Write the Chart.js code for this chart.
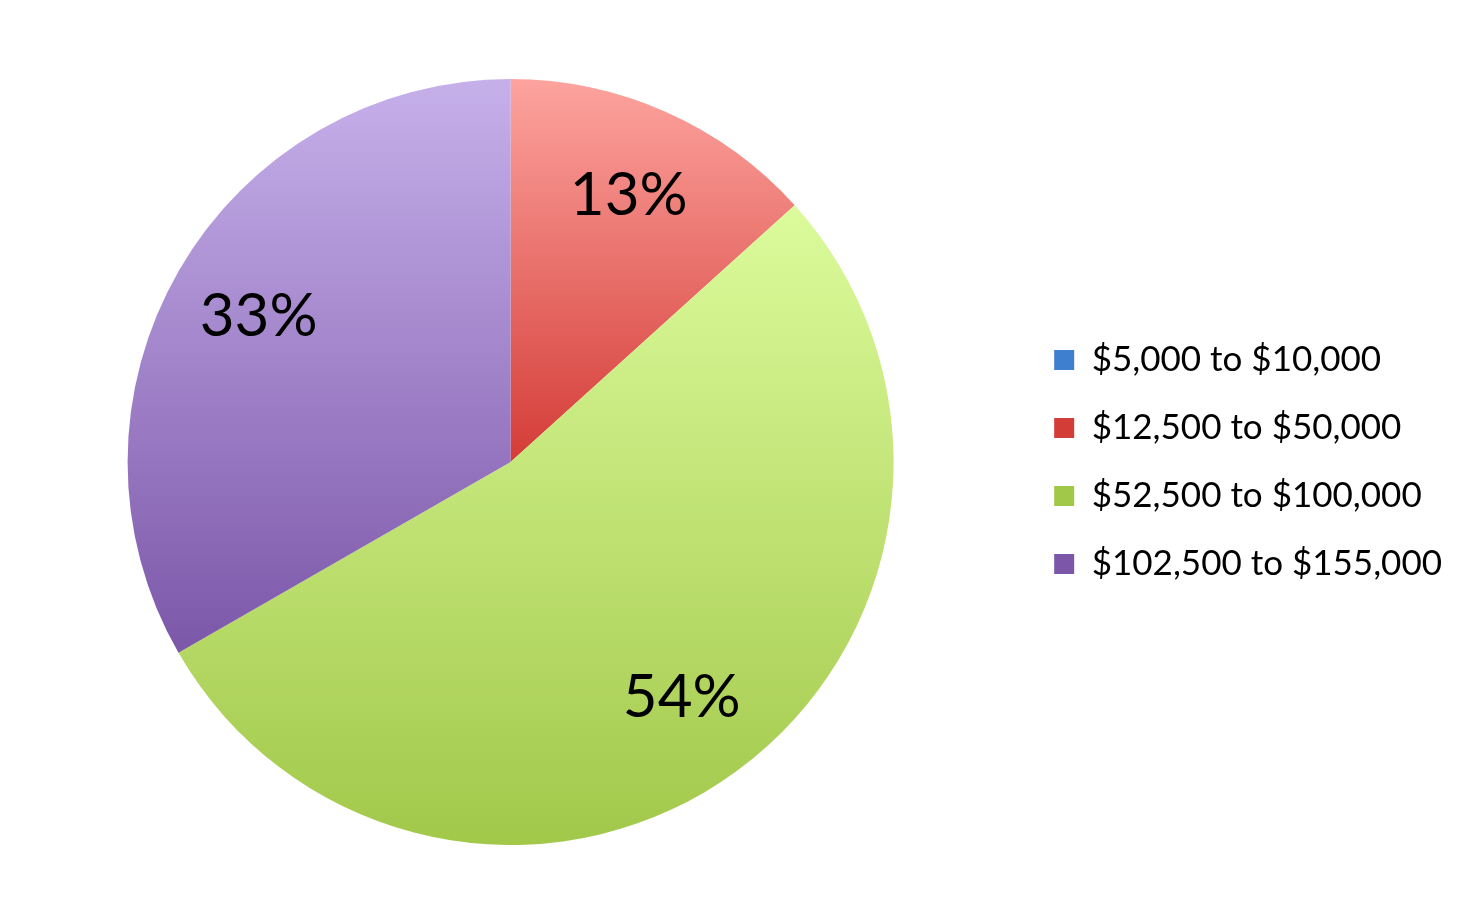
<!DOCTYPE html>
<html>
<head>
<meta charset="utf-8">
<script src="https://cdn.jsdelivr.net/npm/chart.js@4"></script>
<style>
  html, body { margin: 0; padding: 0; background: #fff; }
  #wrap { width: 1472px; height: 919px; }
</style>
</head>
<body>
<div id="wrap"><canvas id="pieChart"></canvas></div>
<script>
const categories = ['$5,000 to $10,000', '$12,500 to $50,000', '$52,500 to $100,000', '$102,500 to $155,000'];
const shares = [0, 13.3, 53.4, 33.3];
const shareLabels = ['0%', '13%', '54%', '33%'];
// gradient top / bottom colours per slice
const topColors = ['#7fb2ec', '#fda39e', '#dcfb9c', '#c6b0ea'];
const bottomColors = ['#3f7fcf', '#d43c37', '#a2c84a', '#7c57a9'];

function sliceGradient(ctx) {
  const chart = ctx.chart;
  const area = chart.chartArea;
  const i = ctx.dataIndex;
  if (!area) return topColors[i];
  const x = (area.left + area.right) / 2, y = (area.top + area.bottom) / 2;
  const r = Math.min(area.right - area.left, area.bottom - area.top) / 2;
  const total = shares.reduce((a, b) => a + b, 0);
  let before = 0;
  for (let k = 0; k < i; k++) before += shares[k];
  const startAngle = -Math.PI / 2 + before / total * Math.PI * 2;
  const endAngle = startAngle + shares[i] / total * Math.PI * 2;
  let ys = [y, y + r * Math.sin(startAngle), y + r * Math.sin(endAngle)];
  for (let a = -Math.PI * 2.5; a <= Math.PI * 2.5; a += Math.PI / 2) {
    if (a > startAngle && a < endAngle) ys.push(y + r * Math.sin(a));
  }
  const y0 = Math.min(...ys), y1 = Math.max(...ys);
  if (y1 - y0 < 1) return topColors[i];
  const g = chart.ctx.createLinearGradient(0, y0, 0, y1);
  g.addColorStop(0, topColors[i]);
  g.addColorStop(1, bottomColors[i]);
  return g;
}

const percentLabels = {
  id: 'percentLabels',
  afterDatasetsDraw(chart) {
    const c = chart.ctx;
    c.save();
    c.font = '60px Lato, "Open Sans", sans-serif';
    c.fillStyle = '#000';
    c.textAlign = 'center';
    c.textBaseline = 'middle';
    chart.getDatasetMeta(0).data.forEach((arc, i) => {
      if (shares[i] <= 0) return;
      const mid = (arc.startAngle + arc.endAngle) / 2;
      const rr = arc.outerRadius * 0.76;
      c.fillText(shareLabels[i], arc.x + rr * Math.cos(mid), arc.y + rr * Math.sin(mid));
    });
    c.restore();
  }
};

document.addEventListener('DOMContentLoaded', () => {
  const ctx = document.getElementById('pieChart').getContext('2d');
  new Chart(ctx, {
    type: 'pie',
    data: {
      labels: categories,
      datasets: [{
        data: shares,
        backgroundColor: sliceGradient,
        borderWidth: 0
      }]
    },
    options: {
      responsive: true,
      maintainAspectRatio: false,
      animation: false,
      layout: { padding: { top: 79, bottom: 74, left: 0, right: 20 } },
      plugins: {
        tooltip: { enabled: false },
        legend: {
          position: 'right',
          labels: {
            boxWidth: 20,
            boxHeight: 20,
            padding: 33,
            color: '#000',
            font: { size: 35, family: 'Lato, "Open Sans", sans-serif' },
            generateLabels(chart) {
              return categories.map((t, i) => ({
                text: t,
                fillStyle: bottomColors[i],
                strokeStyle: topColors[i],
                lineWidth: 0,
                index: i
              }));
            }
          }
        }
      }
    },
    plugins: [percentLabels]
  });
  // second pass so gradients use the final chart area
  Chart.getChart(ctx).update();
});
</script>
</body>
</html>
